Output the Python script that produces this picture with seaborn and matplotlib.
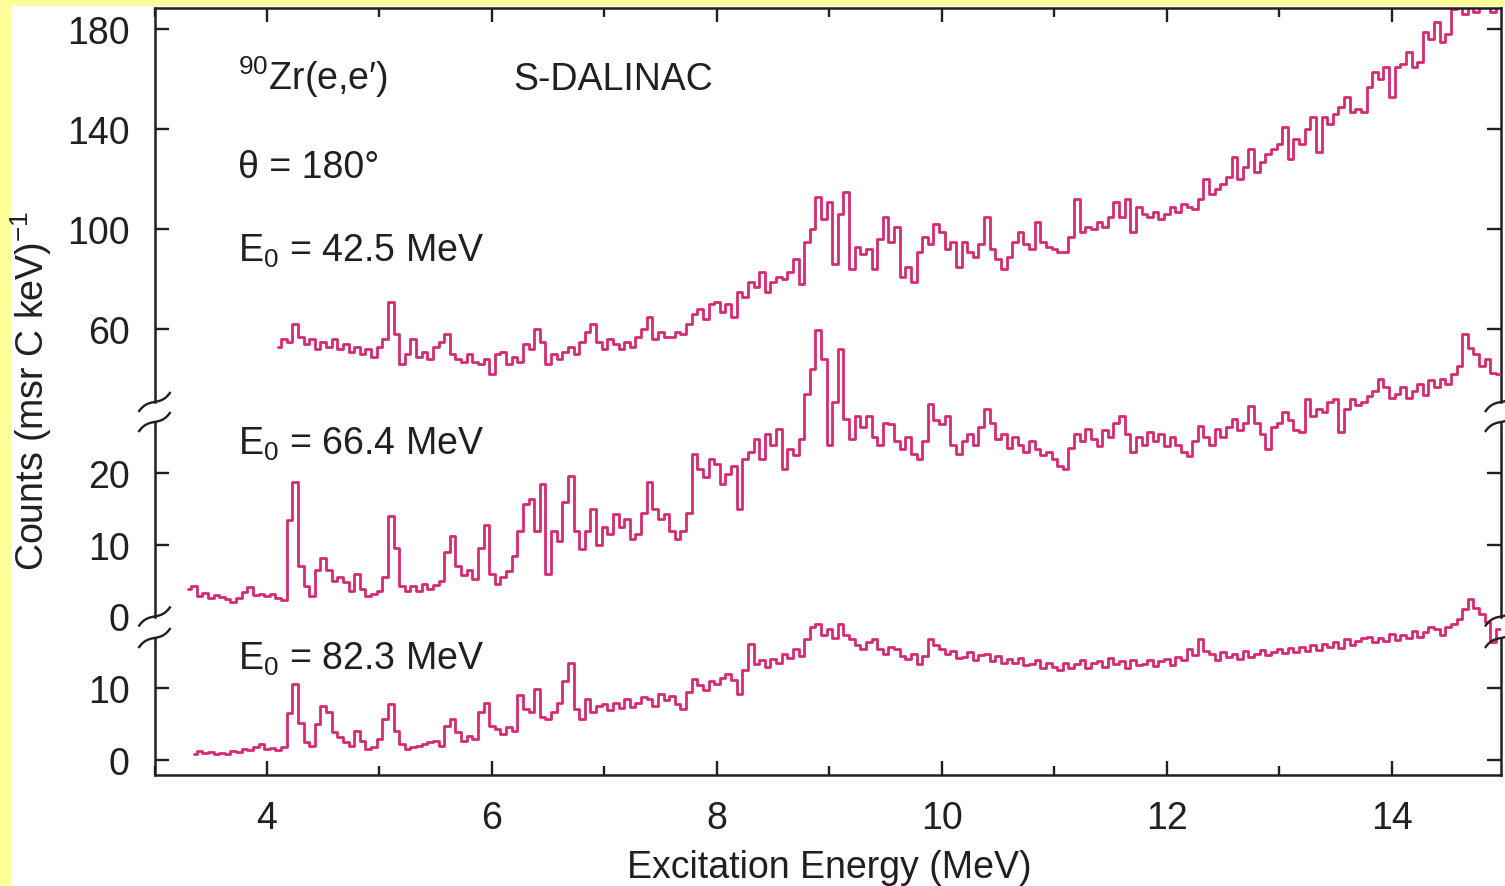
import numpy as np
import pandas as pd
import matplotlib
matplotlib.use("Agg")
import matplotlib.pyplot as plt
import seaborn as sns
from matplotlib.ticker import MultipleLocator, FixedLocator
from matplotlib.transforms import Bbox, TransformedBbox
from matplotlib.lines import Line2D
from matplotlib.patches import Rectangle

# ---------------- data ----------------
bin_width = 0.05

top_start = 4.10  # E0 = 42.5 MeV
top_counts = [
    53, 56, 55, 62, 57, 54, 56, 52, 55, 53,
    56, 52, 54, 51, 53, 50, 52, 49, 53, 56,
    71, 58, 46, 50, 56, 49, 51, 48, 53, 55,
    58, 50, 48, 47, 50, 47, 46, 48, 42, 50,
    51, 46, 49, 47, 54, 52, 60, 55, 46, 50,
    48, 51, 53, 50, 55, 59, 62, 55, 52, 56,
    54, 52, 55, 53, 57, 60, 65, 56, 59, 57,
    57, 59, 58, 62, 66, 68, 64, 70, 71, 67,
    70, 65, 75, 73, 79, 77, 83, 75, 79, 81,
    80, 83, 88, 78, 95, 100, 113, 104, 111, 86,
    106, 115, 84, 93, 90, 92, 84, 96, 105, 95,
    101, 81, 85, 79, 91, 97, 94, 102, 99, 92,
    95, 85, 95, 91, 89, 94, 105, 92, 88, 84,
    89, 95, 99, 94, 92, 103, 95, 93, 92, 91,
    91, 97, 112, 99, 101, 100, 103, 101, 105, 111,
    105, 112, 99, 109, 106, 105, 107, 104, 106, 109,
    107, 110, 109, 108, 112, 120, 114, 116, 118, 121,
    129, 120, 125, 132, 123, 127, 130, 132, 134, 141,
    128, 136, 134, 140, 145, 131, 145, 142, 146, 149,
    153, 147, 148, 147, 157, 163, 160, 165, 153, 165,
    166, 171, 165, 167, 179, 176, 183, 175, 178, 188,
    190, 186, 191, 187, 193, 192, 187, 194, 195,
]

mid_start = 3.30  # E0 = 66.4 MeV
mid_counts = [
    3.8, 4.3, 2.9, 3.3, 2.6, 3.0, 2.7, 2.4, 2.0, 2.6,
    3.4, 4.1, 3.0, 3.2, 2.9, 3.1, 2.6, 2.3, 13.5, 18.8,
    7.0, 4.3, 2.8, 6.5, 8.2, 6.5, 5.0, 5.5, 4.8, 3.6,
    6.0, 3.8, 2.9, 3.2, 3.6, 5.5, 14.0, 9.5, 4.3, 3.6,
    4.2, 3.5, 4.6, 3.9, 4.4, 5.0, 9.0, 11.3, 7.0, 5.8,
    6.5, 5.2, 9.5, 12.8, 6.0, 4.6, 5.5, 6.4, 8.5, 12.0,
    15.7, 16.4, 12.0, 18.5, 6.0, 12.0, 10.5, 16.0, 19.6, 12.0,
    9.4, 12.0, 15.0, 10.0, 12.5, 11.5, 14.3, 12.5, 13.6, 10.8,
    11.5, 14.5, 18.8, 15.0, 13.6, 14.3, 12.0, 10.8, 12.0, 14.5,
    22.7, 20.6, 19.5, 22.0, 21.3, 18.5, 19.9, 21.0, 15.0, 22.0,
    23.0, 24.8, 22.0, 25.5, 24.0, 26.2, 20.6, 23.4, 22.5, 24.8,
    31.1, 34.6, 40.0, 36.0, 24.0, 30.0, 37.4, 27.6, 24.8, 28.0,
    26.5, 28.0, 25.0, 24.0, 27.0, 26.9, 24.5, 23.4, 25.0, 22.7,
    22.0, 24.5, 29.7, 27.5, 26.9, 28.0, 24.0, 22.7, 24.5, 25.5,
    24.0, 26.5, 29.0, 27.0, 24.8, 25.5, 23.5, 25.0, 24.0, 23.0,
    24.5, 23.4, 22.5, 23.0, 22.0, 21.0, 20.6, 23.5, 25.5, 24.5,
    26.2, 24.8, 23.8, 26.0, 25.0, 27.0, 28.0, 25.5, 23.0, 25.0,
    24.0, 25.8, 24.5, 25.5, 23.8, 25.0, 24.0, 23.0, 22.4, 24.5,
    26.6, 25.0, 24.0, 26.2, 25.0, 26.5, 27.6, 26.0, 27.0, 29.4,
    27.0, 25.5, 23.4, 26.5, 27.0, 28.5, 27.5, 26.0, 25.8, 30.4,
    28.0, 29.0, 28.5, 30.0, 30.4, 25.8, 29.0, 30.4, 29.5, 30.0,
    30.8, 31.5, 33.2, 32.0, 30.5, 31.1, 32.0, 30.5, 31.5, 32.5,
    31.0, 33.0, 32.0, 33.2, 32.5, 33.9, 35.0, 39.5, 37.5, 36.7,
    35.0, 36.0, 34.0, 33.9, 33.0,
]

bot_start = 3.35  # E0 = 82.3 MeV
bot_counts = [
    0.8, 1.2, 1.0, 1.1, 0.9, 1.0, 0.8, 1.2, 1.1, 1.5,
    1.4, 1.8, 2.2, 1.5, 1.7, 1.4, 1.8, 6.5, 10.6, 5.2,
    2.5, 2.0, 5.0, 7.6, 6.7, 3.9, 3.2, 2.5, 2.0, 4.1,
    2.7, 1.5, 1.8, 2.9, 5.7, 7.8, 4.0, 2.2, 1.5, 1.8,
    2.0, 2.3, 2.5, 2.7, 2.0, 4.8, 5.7, 3.9, 2.7, 3.4,
    2.9, 6.7, 8.0, 4.8, 4.3, 3.6, 4.6, 4.1, 9.0, 7.1,
    6.7, 9.9, 6.0, 5.7, 6.7, 8.0, 11.0, 13.5, 7.1, 5.7,
    8.5, 6.7, 7.5, 7.8, 7.0, 8.0, 7.2, 8.5, 7.4, 8.0,
    8.8, 8.5, 7.6, 9.2, 8.4, 8.9, 7.8, 7.1, 9.5, 11.3,
    10.5, 9.8, 11.0, 10.6, 11.5, 12.0, 11.2, 9.2, 12.5, 16.2,
    13.4, 14.0, 13.0, 14.1, 13.5, 14.8, 14.2, 15.5, 14.5, 16.9,
    18.5, 19.0, 17.5, 18.3, 17.0, 19.0, 17.5, 16.9, 16.0, 15.5,
    16.5, 16.9, 15.5, 14.8, 15.8, 15.5, 14.5, 14.1, 14.8, 13.4,
    14.5, 16.9, 16.0, 15.5, 14.8, 15.2, 14.2, 14.4, 15.0, 14.0,
    14.6, 14.8, 13.8, 14.5, 13.6, 14.1, 13.5, 14.2, 13.2, 13.4,
    13.9, 12.8, 13.5, 13.0, 12.6, 13.6, 12.9, 13.4, 13.9, 12.8,
    13.6, 13.8, 13.0, 14.2, 13.4, 13.8, 12.9, 14.0, 13.2, 13.4,
    14.0, 13.1, 13.8, 14.1, 13.3, 14.4, 14.0, 15.5, 14.6, 16.9,
    15.2, 14.8, 14.0, 15.0, 14.3, 14.8, 14.1, 15.2, 14.4, 14.8,
    15.3, 14.6, 15.1, 15.5, 14.9, 15.6, 15.0, 15.8, 15.2, 16.0,
    15.4, 16.2, 15.8, 16.5, 15.6, 16.9, 16.0, 16.6, 17.0, 17.2,
    16.4, 17.0, 16.6, 17.6, 16.8, 17.4, 17.0, 18.0, 17.2, 17.8,
    18.5, 18.3, 17.5, 18.6, 19.0, 19.7, 21.0, 22.5, 21.2, 20.4,
    19.3, 16.5, 18.3, 19.0,
]

x_ticks = [4, 6, 8, 10, 12, 14]
top_yticks = [60, 100, 140, 180]
mid_yticks = [0, 10, 20]
bot_yticks = [0, 10]
panel_labels = ["E$_0$ = 42.5 MeV", "E$_0$ = 66.4 MeV", "E$_0$ = 82.3 MeV"]
reaction_label = "$^{90}$Zr(e,e\u2032)"
facility_label = "S-DALINAC"
angle_label = "\u03b8 = 180\u00b0"
x_label = "Excitation Energy (MeV)"
y_label = "Counts (msr C keV)$^{-1}$"


def spectrum(start, counts):
    return pd.DataFrame({"E": start + bin_width * np.arange(len(counts)),
                         "counts": counts})


df_top = spectrum(top_start, top_counts)
df_mid = spectrum(mid_start, mid_counts)
df_bot = spectrum(bot_start, bot_counts)

# ---------------- style ----------------
sns.set_theme(style="ticks")
plt.rcParams["font.family"] = ["Liberation Sans", "DejaVu Sans"]
plt.rcParams["mathtext.fontset"] = "custom"
plt.rcParams["mathtext.rm"] = "Liberation Sans"
plt.rcParams["mathtext.it"] = "Liberation Sans:italic"
plt.rcParams["mathtext.bf"] = "Liberation Sans:bold"

INK = "#231F20"
TXT = "#231F20"
LINE = "#D62A72"
FS = 27

W, H = 1505, 887
fig = plt.figure(figsize=(W / 100, H / 100), dpi=100, facecolor="white")


def fx(px):
    return np.asarray(px) / W


def fy(py):
    return 1 - np.asarray(py) / H


# yellow frame strips
fig.add_artist(Rectangle((0, 0), fx(10.5), 1, transform=fig.transFigure,
                         facecolor="#FFFF99", edgecolor="none", zorder=0))
fig.add_artist(Rectangle((0, fy(7)), 1, 7 / H, transform=fig.transFigure,
                         facecolor="#FFFF99", edgecolor="none", zorder=0))

L, R = 154.5, 1501.0


def make_axes(top_px, bot_px):
    ax = fig.add_axes([fx(L), fy(bot_px), fx(R) - fx(L), (bot_px - top_px) / H])
    ax.patch.set_visible(False)
    return ax


ax_top = make_axes(9, 403)
ax_mid = make_axes(423, 617.5)
ax_bot = make_axes(639, 775.7)

XLIM = (3.0, 14.97)
for ax, df, clip_full in ((ax_top, df_top, True), (ax_mid, df_mid, False),
                          (ax_bot, df_bot, False)):
    sns.lineplot(data=df, x="E", y="counts", ax=ax, color=LINE, linewidth=2.0,
                 drawstyle="steps-mid", estimator=None, legend=False)
    line = ax.lines[-1]
    if not clip_full:
        line.set_clip_box(TransformedBbox(Bbox([[0, -2], [1, 3]]), ax.transAxes))
    ax.set_xlim(*XLIM)
    ax.set_xlabel("")
    ax.set_ylabel("")
    for s in ax.spines.values():
        s.set_color(INK)
        s.set_linewidth(1.8)
    ax.tick_params(axis="both", which="major", direction="in", length=10,
                   width=1.7, color=INK, labelsize=FS, labelcolor=TXT, pad=18)
    ax.tick_params(axis="both", which="minor", direction="in", length=6.5,
                   width=1.7, color=INK)
    ax.tick_params(axis="y", left=True, right=True, labelleft=True, labelright=False)
    ax.xaxis.set_major_locator(FixedLocator(x_ticks))
    ax.xaxis.set_minor_locator(MultipleLocator(1))

ax_top.set_ylim(30.8, 188.4)
ax_mid.set_ylim(0, 27.16)
ax_bot.set_ylim(-2.05, 17.02)
ax_top.set_yticks(top_yticks)
ax_mid.set_yticks(mid_yticks)
ax_bot.set_yticks(bot_yticks)

ax_top.spines["bottom"].set_visible(False)
ax_mid.spines["bottom"].set_visible(False)
ax_mid.spines["top"].set_visible(False)
ax_bot.spines["top"].set_visible(False)

ax_top.tick_params(axis="x", which="both", top=True, bottom=False,
                   labeltop=False, labelbottom=False)
ax_mid.tick_params(axis="x", which="both", top=False, bottom=False,
                   labeltop=False, labelbottom=False)
ax_bot.tick_params(axis="x", which="both", top=False, bottom=True,
                   labeltop=False, labelbottom=True)

zero_tick = ax_mid.yaxis.get_major_ticks()[0]
zero_tick.tick1line.set_visible(False)
zero_tick.tick2line.set_visible(False)


# axis break marks
def break_mark(xc, yc):
    t = np.linspace(-1, 1, 40)
    xs = xc + 16 * t
    ys = yc - (3 * t + 7 * t ** 3)
    fig.add_artist(Line2D(fx(xs), fy(ys), transform=fig.transFigure,
                          color=INK, linewidth=1.7, solid_capstyle="butt"))


for xc in (L, R):
    for yc in (403, 423, 617.5, 639):
        break_mark(xc, yc)

# texts
fig.text(fx(238), fy(90), reaction_label, fontsize=FS, color=TXT, ha="left", va="baseline")
fig.text(fx(513), fy(90), facility_label, fontsize=FS, color=TXT, ha="left", va="baseline")
fig.text(fx(238), fy(178), angle_label, fontsize=FS, color=TXT, ha="left", va="baseline")
for lab, base in zip(panel_labels, (262, 455, 670)):
    fig.text(fx(238), fy(base), lab, fontsize=FS, color=TXT, ha="left", va="baseline")

fig.text(fx(829), fy(878), x_label, fontsize=FS, color=TXT, ha="center", va="baseline")
fig.text(fx(31), fy(391), y_label, fontsize=FS, color=TXT, ha="center", va="center",
         rotation=90)

fig.savefig("out.png", dpi=100, facecolor="white")
